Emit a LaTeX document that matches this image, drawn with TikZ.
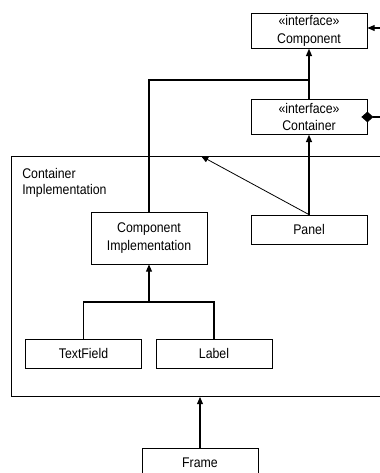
\documentclass[tikz,border=0pt]{standalone}
\usepackage{fontspec}
\setmainfont[FakeStretch=0.88]{Liberation Sans}
\usetikzlibrary{arrows.meta, positioning, calc}

\tikzset{
  cls/.style={draw, rectangle, line width=0.6pt, inner sep=0pt, align=center, minimum width=87pt},
  gen/.style={line width=0.9pt, -{Triangle[length=5.5pt, width=4.5pt]}},
  link/.style={line width=0.9pt}
}

\begin{document}
\begin{tikzpicture}[x=0.75pt, y=-0.75pt, font=\fontsize{10.5}{13}\selectfont]
        \useasboundingbox (0,0) rectangle (379,473);
        % interfaces
        \node[cls, minimum height=26pt] (comp) at (309, 31) {«interface»\\Component};
        \node[cls, minimum height=26pt] (cont) at (309, 117) {«interface»\\Container};
        % container implementation frame
        \node[cls, minimum width=291.75pt, minimum height=180pt] (contimpl) at (205.5, 276.5) {};
        \node[anchor=north west, align=left, inner sep=0pt, font=\fontsize{10.5}{12}\selectfont] (contlbl) at (22, 168) {Container\\Implementation};
        % classes
        \node[cls, minimum height=39pt] (compimpl) at (149, 238) {Component\\Implementation};
        \node[cls, minimum height=21.75pt] (panel) at (309, 229.5) {Panel};
        \node[cls, minimum height=21.75pt] (textfield) at (83.5, 353.5) {TextField};
        \node[cls, minimum height=21.75pt] (label) at (214, 353.5) {Label};
        \node[cls, minimum height=22.5pt] (frame) at (200, 463) {Frame};
        % free ends and joints
        \coordinate (cj) at (309, 80);
        \coordinate (tj) at (149, 302);
        \coordinate (pj) at (201, 156);
        \coordinate (rc) at (385, 28);
        \coordinate (rd) at (385, 117);
        % connectors
        \draw[gen] (cont.north) -- (comp.south);
        \draw[link] (compimpl.north) |- (cj);
        \draw[gen] (panel.north) -- (cont.south);
        \draw[gen, line width=0.6pt] (panel.north) -- (pj);
        \draw[link] (textfield.north) |- (tj) -| (label.north);
        \draw[gen] (tj) -- (compimpl.south);
        \draw[gen] (frame.north) -- (frame.north |- contimpl.south);
        \draw[gen] (rc) -- (comp.east |- rc);
        \draw[link, shorten >=-4.5pt, -{Diamond[length=9pt, width=8pt]}] (rd) -- (cont.east);
\end{tikzpicture}
\end{document}
